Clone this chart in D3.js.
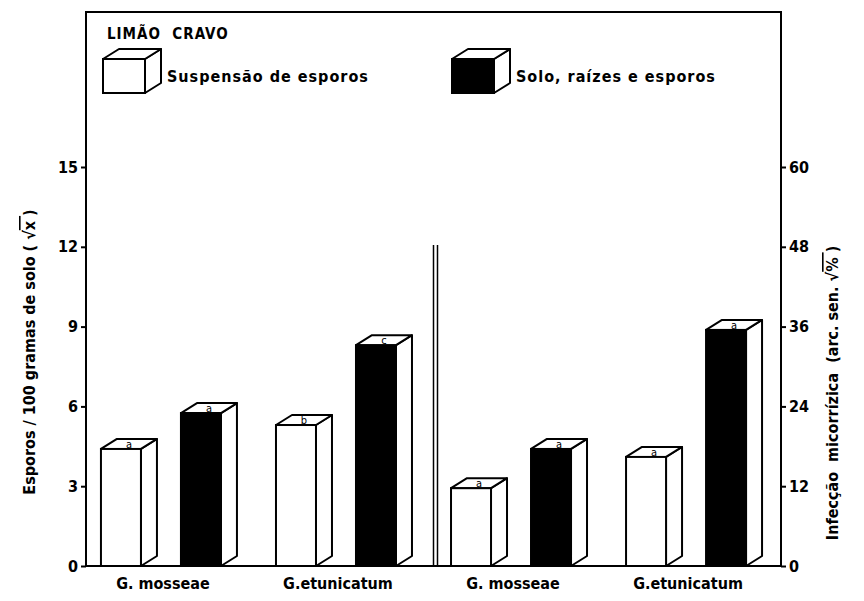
<!DOCTYPE html>
<html>
<head>
<meta charset="utf-8">
<script src="https://cdn.jsdelivr.net/npm/d3@7"></script>
<style>
  body { margin: 0; background: #fff; }
  text { font-family: "DejaVu Sans Condensed", "DejaVu Sans", sans-serif; font-weight: bold; fill: #000; }
</style>
</head>
<body>
<svg id="chart" width="864" height="601"></svg>
<script>
// data
var speciesLabels = ["G. mosseae", "G.etunicatum", "G. mosseae", "G.etunicatum"];
var seriesNames = ["Suspensão de esporos", "Solo, raízes e esporos"];
// left panel: esporos / 100 g solo (sqrt x)
var sporeValues = [[4.4, 5.75], [5.3, 8.3]];
var sporeLetters = [["a", "a"], ["b", "c"]];
// right panel: infeccao micorrizica (arc sen sqrt %)
var infectionValues = [[11.7, 17.6], [16.4, 35.5]];
var infectionLetters = [["a", "a"], ["a", "a"]];
var leftTicks = [0, 3, 6, 9, 12, 15];
var rightTicks = [0, 12, 24, 36, 48, 60];

var svg = d3.select("#chart");

// note: "top" is taken by window.top, so use other names
var plotL = 86, plotR = 781, plotT = 12, plotB = 566;
var dx = 16, dy = 10;

var yL = d3.scaleLinear().domain([0, 15]).range([plotB, 167]);
var yR = d3.scaleLinear().domain([0, 60]).range([plotB, 167]);

var x0 = d3.scaleBand().domain(d3.range(4)).range([88, 775]).paddingInner(0.223).paddingOuter(0.074);
var x1 = d3.scaleBand().domain([0, 1]).range([0, 120]).paddingInner(0.5);

// build bar rows
var bars = [];
for (var g = 0; g < 4; g++) {
  for (var s = 0; s < 2; s++) {
    var isLeft = g < 2;
    var v = isLeft ? sporeValues[g][s] : infectionValues[g - 2][s];
    var letter = isLeft ? sporeLetters[g][s] : infectionLetters[g - 2][s];
    bars.push({ group: g, series: s, value: v, letter: letter, y: isLeft ? yL : yR });
  }
}

// frame
svg.append("rect")
  .attr("x", plotL).attr("y", plotT)
  .attr("width", plotR - plotL).attr("height", plotB - plotT)
  .attr("fill", "none").attr("stroke", "#000").attr("stroke-width", 2);

// divider between the two panels (double line)
var mid = (x0(1) + x0.bandwidth() + x0(2)) / 2 + 4;
[-2, 2].forEach(function(o) {
  svg.append("line")
    .attr("x1", mid + o).attr("x2", mid + o)
    .attr("y1", 245).attr("y2", plotB)
    .attr("stroke", "#000").attr("stroke-width", 1.5);
});

// axes
var axisL = d3.axisLeft(yL).tickValues(leftTicks).tickSize(5).tickPadding(3);
var axisR = d3.axisRight(yR).tickValues(rightTicks).tickSize(5).tickPadding(3);

var gL = svg.append("g").attr("transform", "translate(" + plotL + ",0)").call(axisL);
var gR = svg.append("g").attr("transform", "translate(" + plotR + ",0)").call(axisR);
[gL, gR].forEach(function(ax) {
  ax.select(".domain").remove();
  ax.selectAll("line").attr("stroke", "#000").attr("stroke-width", 2);
  ax.selectAll("text").style("font-size", "16px");
});

// 3d bars
function cube(sel, x, yTop, w, yBot, fill) {
  sel.append("path")
    .attr("d", "M" + (x + w) + "," + yBot + "L" + (x + w + dx) + "," + (yBot - dy) +
      "L" + (x + w + dx) + "," + (yTop - dy) + "L" + (x + w) + "," + yTop + "Z")
    .attr("fill", "#fff").attr("stroke", "#000").attr("stroke-width", 2).attr("stroke-linejoin", "round");
  sel.append("path")
    .attr("d", "M" + x + "," + yTop + "L" + (x + dx) + "," + (yTop - dy) +
      "L" + (x + w + dx) + "," + (yTop - dy) + "L" + (x + w) + "," + yTop + "Z")
    .attr("fill", "#fff").attr("stroke", "#000").attr("stroke-width", 2).attr("stroke-linejoin", "round");
  sel.append("rect")
    .attr("x", x).attr("y", yTop).attr("width", w).attr("height", yBot - yTop)
    .attr("fill", fill).attr("stroke", "#000").attr("stroke-width", 2);
}

var barG = svg.append("g");
bars.forEach(function(d) {
  var x = x0(d.group) + x1(d.series);
  var yt = d.y(d.value);
  cube(barG, x, yt, x1.bandwidth(), plotB, d.series === 0 ? "#fff" : "#000");
  barG.append("text")
    .attr("x", x + x1.bandwidth() / 2 + dx / 2)
    .attr("y", yt - dy / 2 + 4)
    .attr("text-anchor", "middle")
    .style("font-size", "11px")
    .style("font-weight", "normal")
    .text(d.letter);
});

// category labels
svg.selectAll("text.cat")
  .data(speciesLabels)
  .join("text")
  .attr("class", "cat")
  .attr("x", function(d, i) { return x0(i) + 62; })
  .attr("y", 589)
  .attr("text-anchor", "middle")
  .style("font-size", "16px")
  .text(function(d) { return d; });

// header + legend
svg.append("text").attr("x", 107).attr("y", 39).style("font-size", "15px")
  .style("letter-spacing", "1px")
  .attr("xml:space", "preserve").text("LIMÃO  CRAVO");

var legendX = [103, 452];
seriesNames.forEach(function(name, i) {
  var lg = svg.append("g");
  cube(lg, legendX[i], 59, 42, 93, i === 0 ? "#fff" : "#000");
  lg.append("text").attr("x", legendX[i] + 64).attr("y", 82)
    .style("font-size", "16px").style("letter-spacing", "1px").text(name);
});

// axis titles
var tL = svg.append("text")
  .attr("transform", "translate(35," + 352 + ") rotate(-90)")
  .attr("text-anchor", "middle")
  .style("font-size", "16px")
  .attr("xml:space", "preserve");
tL.append("tspan").text("Esporos / 100 gramas de solo ( √");
tL.append("tspan").style("text-decoration", "overline").text("x ");
tL.append("tspan").text(")");

var tR = svg.append("text")
  .attr("transform", "translate(838," + 393 + ") rotate(-90)")
  .attr("text-anchor", "middle")
  .style("font-size", "16px")
  .attr("xml:space", "preserve");
tR.append("tspan").text("Infecção  micorrízica  (arc. sen. √");
tR.append("tspan").style("text-decoration", "overline").text("% ");
tR.append("tspan").text(")");
</script>
</body>
</html>
